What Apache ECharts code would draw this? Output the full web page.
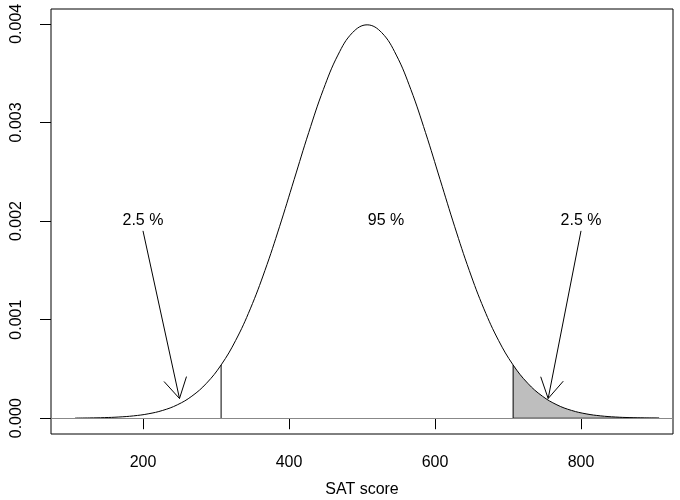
<!DOCTYPE html>
<html>
<head>
<meta charset="utf-8">
<script src="https://cdn.jsdelivr.net/npm/echarts@6/dist/echarts.min.js"></script>
<style>
  html, body { margin: 0; padding: 0; background: #fff; }
  #chart { width: 680px; height: 500px; }
</style>
</head>
<body>
<div id="chart"></div>
<script>
// SAT score density curve (every 20 points)
const scoreX = [107, 127, 147, 167, 187, 207, 227, 247, 267, 287, 307, 327, 347, 367, 387, 407, 427, 447, 467, 487,
  507, 527, 547, 567, 587, 607, 627, 647, 667, 687, 707, 727, 747, 767, 787, 807, 827, 847, 867, 887, 907];
const densityY = [0.0000013, 0.0000029, 0.0000061, 0.0000123, 0.0000238, 0.0000443, 0.0000792, 0.0001358, 0.000224, 0.0003547,
  0.0005399, 0.0007895, 0.0011092, 0.0014973, 0.0019419, 0.0024197, 0.0028969, 0.0033322, 0.0036827, 0.0039104,
  0.0039894,
  0.0039104, 0.0036827, 0.0033322, 0.0028969, 0.0024197, 0.0019419, 0.0014973, 0.0011092, 0.0007895, 0.0005399,
  0.0003547, 0.000224, 0.0001358, 0.0000792, 0.0000443, 0.0000238, 0.0000123, 0.0000061, 0.0000029, 0.0000013];

// cut-off lines
const cutX = [307, 707];
const cutTop = [0.00054, 0.00054];

// annotations
const noteText = ["2.5 %", "95 %", "2.5 %"];
const noteX = [200, 533, 800];
const noteY = [0.002, 0.002, 0.002];

// arrows (from -> to)
const arrowX0 = [200, 800];
const arrowY0 = [0.0019, 0.0019];
const arrowX1 = [250, 755];
const arrowY1 = [0.0002, 0.0002];

const xTicks = [200, 400, 600, 800];
const yTicks = [0, 0.001, 0.002, 0.003, 0.004];

const chart = echarts.init(document.getElementById("chart"));

const curve = scoreX.map((x, i) => [x, densityY[i]]);
const tail = curve.filter((p) => p[0] >= cutX[1]);

const font = "Liberation Sans";

const option = {
  animation: false,
  grid: {
    left: 51,
    right: 7,
    top: 9,
    bottom: 66,
    outerBoundsMode: "none",
    show: true,
    borderColor: "#000",
    borderWidth: 1,
  },
  xAxis: {
    type: "value",
    min: 74,
    max: 926,
    name: "SAT score",
    nameLocation: "middle",
    nameGap: 48,
    nameTextStyle: { color: "#000", fontSize: 16, fontFamily: font },
    axisLine: { show: false },
    axisTick: { show: true, length: 11, customValues: xTicks, lineStyle: { color: "#000" } },
    axisLabel: {
      customValues: xTicks,
      color: "#000",
      fontSize: 16,
      fontFamily: font,
      margin: 21,
    },
    splitLine: { show: false },
  },
  yAxis: {
    type: "value",
    min: -0.00016,
    max: 0.00415,
    axisLine: { show: false },
    axisTick: { show: true, length: 11, customValues: yTicks, lineStyle: { color: "#000" } },
    axisLabel: {
      customValues: yTicks,
      rotate: 90,
      color: "#000",
      fontSize: 16,
      fontFamily: font,
      margin: 26,
      formatter: (v) => v.toFixed(3),
    },
    splitLine: { show: false },
  },
  series: [
    {
      // shaded upper tail
      type: "line",
      data: tail,
      showSymbol: false,
      smooth: 0.4,
      lineStyle: { width: 0 },
      areaStyle: { color: "#bebebe", opacity: 1, origin: 0 },
      markLine: {
        silent: true,
        symbol: "none",
        label: { show: false },
        lineStyle: { color: "#888", width: 1, type: "solid" },
        data: [{ yAxis: 0 }],
      },
      z: 1,
    },
    {
      // bottom edge of the shaded polygon
      type: "line",
      data: [[cutX[1], 0], [tail[tail.length - 1][0], 0]],
      showSymbol: false,
      lineStyle: { color: "#000", width: 1 },
      z: 3,
    },
    {
      type: "line",
      data: curve,
      showSymbol: false,
      smooth: 0.4,
      lineStyle: { color: "#000", width: 1 },
      z: 3,
    },
    ...cutX.map((x, i) => ({
      type: "line",
      data: [[x, 0], [x, cutTop[i]]],
      showSymbol: false,
      lineStyle: { color: "#000", width: 1 },
      z: 3,
    })),
    {
      type: "custom",
      data: arrowX0.map((x, i) => [x, arrowY0[i], arrowX1[i], arrowY1[i]]),
      z: 4,
      renderItem: (params, api) => {
        const p0 = api.coord([api.value(0), api.value(1)]);
        const p1 = api.coord([api.value(2), api.value(3)]);
        const ang = Math.atan2(p1[1] - p0[1], p1[0] - p0[0]);
        const len = 23;
        const spread = Math.PI / 6;
        const a1 = [p1[0] - len * Math.cos(ang - spread), p1[1] - len * Math.sin(ang - spread)];
        const a2 = [p1[0] - len * Math.cos(ang + spread), p1[1] - len * Math.sin(ang + spread)];
        const style = { stroke: "#000", lineWidth: 1, fill: null };
        return {
          type: "group",
          children: [
            { type: "line", shape: { x1: p0[0], y1: p0[1], x2: p1[0], y2: p1[1] }, style },
            { type: "polyline", shape: { points: [a1, p1, a2] }, style },
          ],
        };
      },
    },
    {
      type: "scatter",
      symbolSize: 0,
      itemStyle: { opacity: 1 },
      data: noteX.map((x, i) => ({ value: [x, noteY[i]], name: noteText[i] })),
      label: {
        show: true,
        position: "inside",
        formatter: "{b}",
        color: "#000",
        opacity: 1,
        textBorderWidth: 0,
        fontSize: 16,
        fontFamily: font,
      },
      z: 5,
    },
  ],
};

chart.setOption(option);
</script>
</body>
</html>
